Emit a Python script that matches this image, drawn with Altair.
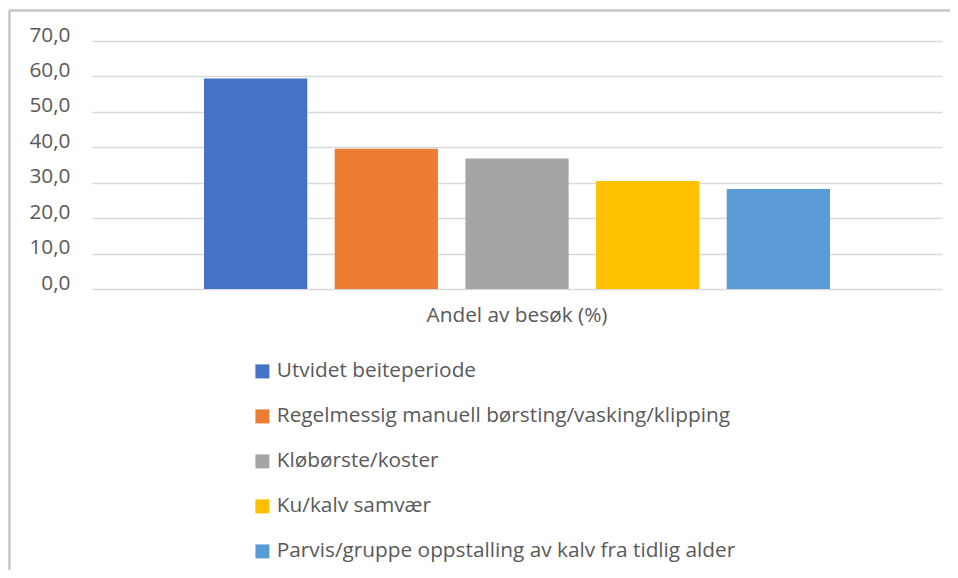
import altair as alt
import pandas as pd

categories = ["Andel av besøk (%)"]
series = [
    "Utvidet beiteperiode",
    "Regelmessig manuell børsting/vasking/klipping",
    "Kløbørste/koster",
    "Ku/kalv samvær",
    "Parvis/gruppe oppstalling av kalv fra tidlig alder",
]
values = [59.4, 39.6, 36.8, 30.5, 28.2]
colors = ["#4472C4", "#ED7D31", "#A5A5A5", "#FFC000", "#5B9BD5"]
y_ticks = [0, 10, 20, 30, 40, 50, 60, 70]

df = pd.DataFrame({
    "kategori": [categories[0]] * len(series),
    "serie": series,
    "verdi": values,
})

FONT = "Open Sans"
TXT = "#595959"
FS = 20.8
W, H = 850, 248

bars = alt.Chart(df).mark_bar().encode(
    x=alt.X("kategori:N", title=None,
            scale=alt.Scale(paddingInner=0, paddingOuter=0.1504),
            axis=alt.Axis(labelAngle=0, ticks=False, tickSize=0, domain=False,
                          grid=False, labelPadding=16, labelFontSize=FS,
                          labelFont=FONT, labelColor=TXT, labelLimit=800)),
    xOffset=alt.XOffset("serie:N", sort=series,
                        scale=alt.Scale(paddingInner=0.21, paddingOuter=0.105)),
    y=alt.Y("verdi:Q", title=None,
            scale=alt.Scale(domain=[0, 70], nice=False),
            axis=alt.Axis(values=y_ticks, domain=False, ticks=False, tickSize=0,
                          labelPadding=22, labelFontSize=FS, labelFont=FONT,
                          labelColor=TXT, labelOffset=-6,
                          labelExpr="replace(format(datum.value, '.1f'), '.', ',')",
                          gridColor="#D9D9D9", gridWidth=1.3)),
    color=alt.Color("serie:N", sort=series,
                    scale=alt.Scale(domain=series, range=colors),
                    legend=alt.Legend(title=None, orient="none",
                                      legendX=160, legendY=320,
                                      direction="vertical",
                                      symbolType="square", symbolSize=196,
                                      symbolStrokeWidth=0, symbolOpacity=1,
                                      labelFont=FONT, labelFontSize=FS,
                                      labelColor=TXT, labelOffset=4,
                                      rowPadding=23, padding=0,
                                      labelLimit=800)),
)

border_top = alt.Chart(df).mark_rule(color="#C6C6C6", strokeWidth=1.5).encode(
    x=alt.value(-83), x2=alt.value(W + 8), y=alt.value(-30.5))
border_left = alt.Chart(df).mark_rule(color="#C6C6C6", strokeWidth=1.5).encode(
    x=alt.value(-82.5), y=alt.value(-30.5), y2=alt.value(H + 281))

chart = alt.layer(bars, border_top, border_left).properties(
    width=W, height=H,
    autosize=alt.AutoSizeParams(type="none"),
    padding={"left": 84, "top": 33, "right": 8, "bottom": 281},
).configure(background="white").configure_view(stroke=None)

chart.save("out.html", embed_options={"renderer": "svg", "actions": False})
